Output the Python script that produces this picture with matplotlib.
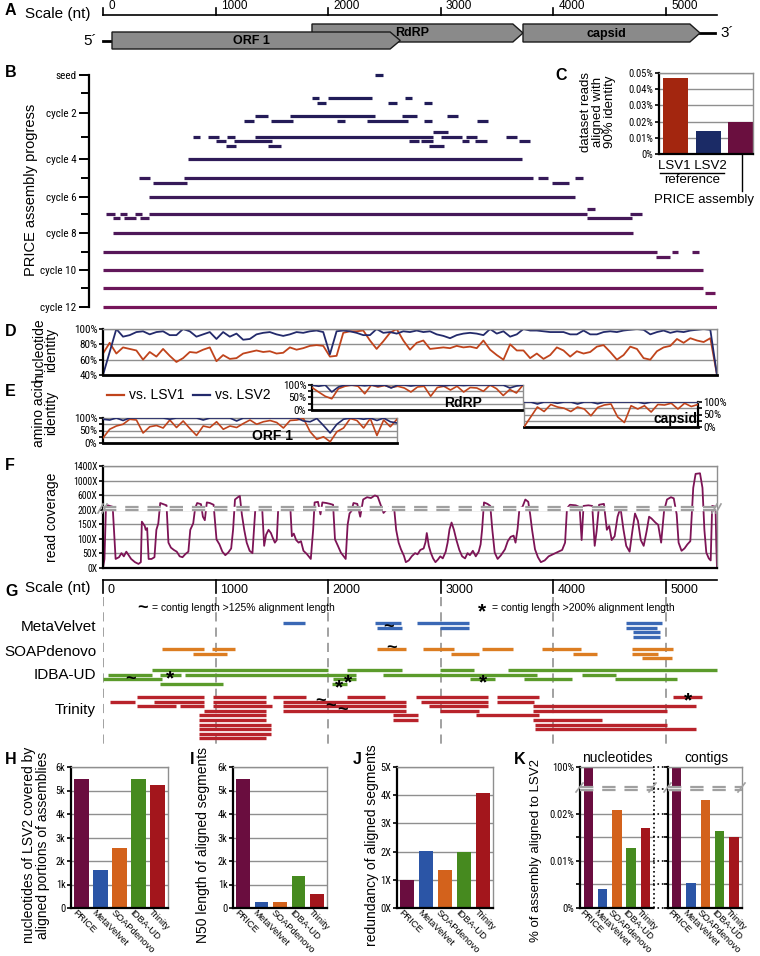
import matplotlib
matplotlib.use('Agg')
import matplotlib.pyplot as plt
import matplotlib.transforms as mtransforms
from matplotlib.colors import to_rgb
from matplotlib.patches import Polygon
from matplotlib import font_manager
from matplotlib.font_manager import FontProperties
import numpy as np

plt.rcParams['font.family'] = ['Liberation Sans', 'DejaVu Sans']


def find_narrow():
    # a condensed sans face for the small tick labels, if one is installed
    prefs = ['Liberation Sans Narrow', 'Roboto Condensed', 'Open Sans Condensed',
             'Noto Sans', 'Open Sans', 'Roboto', 'DejaVu Sans Condensed']
    cands = []
    for f in font_manager.fontManager.ttflist:
        narrow = ('Narrow' in f.name or 'Condensed' in f.name or 'Condensed' in f.fname
                  or str(f.stretch) in ('condensed', 'semi-condensed'))
        if narrow and f.style == 'normal' and f.weight in (400, 'normal', 'regular'):
            cands.append(f)
    for p in prefs:
        for f in cands:
            if f.name == p:
                return FontProperties(fname=f.fname)
    return None


NARROW_FP = find_narrow()

W, H = 760, 956
GENOME_LEN = 5452
X0_PX = 103        # pixel column of nt 0
NT_PER_PX = 8.881  # 1000 nt ~ 112.6 px on the scale bar

# ---------------- data ----------------
scale_ticks = [0, 1000, 2000, 3000, 4000, 5000]

gene_names = ['ORF 1', 'RdRP', 'capsid']
gene_start = [80, 1856, 3730]
gene_end = [2640, 3730, 5302]

# PRICE contigs per cycle (seed .. cycle 12), rows of (start, end) in nt
price_contigs = [
    [[(2413, 2485)]],
    [[(1856, 1918), (1998, 2389), (2682, 2744)],
     [(1900, 1980), (2531, 2611), (2850, 2921)]],
    [[(1350, 1465), (1661, 2415), (2655, 2788), (3055, 3152)],
     [(1252, 1341), (1492, 1687), (2078, 2149), (2344, 2708), (2850, 2921), (3321, 3419)]],
    [[(2930, 3064)],
     [(799, 861), (932, 1030), (1101, 1172), (1350, 2930), (3001, 3188), (3223, 3321), (3579, 3676)],
     [(1003, 1092), (1163, 1501), (2717, 2806), (2824, 2930), (3188, 3250), (3303, 3410), (3694, 3792)],
     [(1092, 1181), (1465, 1581), (2895, 3028)]],
    [[(755, 3721)]],
    [[(320, 417), (719, 3818), (3863, 3952), (4191, 4262)],
     [(444, 746), (3987, 4138)]],
    [[(408, 4191)]],
    [[(4298, 4369)],
     [(27, 107), (151, 213), (284, 346), (408, 4298), (4680, 4786)],
     [(89, 151), (186, 293), (329, 408), (4298, 4698)]],
    [[(89, 4706)]],
    [[(0, 4920), (5053, 5106), (5230, 5292)],
     [(4911, 5035)]],
    [[(0, 5328)]],
    [[(0, 5328)],
     [(5346, 5435)]],
    [[(0, 5452)]],
]
cycle_labels = ['seed', '', 'cycle 2', '', 'cycle 4', '', 'cycle 6', '',
                'cycle 8', '', 'cycle 10', '', 'cycle 12']

# C: dataset reads aligned with 90% identity (%)
c_names = ['LSV1', 'LSV2', 'PRICE']
c_values = [0.047, 0.014, 0.020]

# D: nucleotide identity (%) along genome
d_lsv1 = [68, 82, 68, 76, 74, 72, 60, 70, 64, 74,
          65, 57, 62, 70, 69, 73, 76, 58, 66, 61,
          62, 68, 70, 72, 70, 71, 68, 69, 76, 73,
          75, 78, 79, 78, 64, 65, 95, 97, 97, 98,
          85, 74,
          84, 95, 100, 85, 73, 82, 85, 74, 75, 76,
          75, 78, 76, 77, 75, 85, 73, 66, 60, 80,
          72, 72, 62, 68, 61, 66, 76, 72, 64, 71,
          68, 70, 77, 79, 70, 60, 66, 77, 74, 62,
          60, 71, 76, 78, 87, 82, 88, 85, 83, 88,
          40]
d_lsv2 = [40, 70, 100, 90, 92, 96, 97, 93, 96, 97,
          92, 92, 100, 97, 90, 93, 96, 87, 96, 90,
          94, 86, 87, 93, 95, 96, 93, 91, 93, 96,
          95, 97, 98, 96, 67, 97, 98, 97, 95, 92,
          92, 100,
          95, 96, 94, 97, 96, 98, 96, 97, 93, 91,
          88, 92, 94, 95, 94, 92, 100, 94, 97, 90,
          93, 100, 98, 98, 97, 96, 96, 96, 93, 93,
          98, 93, 93, 96, 97, 96, 98, 99, 100, 99,
          93, 96, 98, 95, 97, 96, 98, 99, 100, 99,
          40]

# E: amino acid identity (%) per protein
orf1_lsv1 = [20, 55, 68, 75, 95, 92, 40, 65, 70, 60,
             92, 62, 88, 58, 30, 68, 62, 85, 55, 68,
             62, 78, 92, 75, 85, 90, 82, 60, 90, 92,
             98, 45, 15, 25, 5, 45, 60, 98, 90, 60,
             98, 30, 92, 65, 95]
orf1_lsv2 = [95, 92, 100, 90, 100, 100, 100, 100, 100, 100,
             95, 100, 100, 100, 100, 92, 100, 100, 100, 100,
             88, 100, 100, 100, 100, 100, 100, 100, 100, 100,
             88, 85, 98, 70, 40, 75, 95, 100, 100, 95,
             100, 90, 100, 85, 80]
rdrp_lsv1 = [90, 72, 55, 45, 85, 95, 100, 95, 65, 100,
             92, 98, 90, 95, 88, 72, 92, 95, 55, 90,
             95, 80, 95, 72, 90, 88, 75, 100, 85, 58,
             82, 68, 100]
rdrp_lsv2 = [100, 95, 100, 72, 92, 100, 100, 100, 97, 100,
             96, 100, 88, 100, 100, 96, 100, 100, 100, 100,
             96, 100, 100, 98, 100, 100, 100, 100, 100, 100,
             88, 96, 100]
capsid_lsv1 = [0, 40, 80, 62, 90, 80, 75, 62, 80, 72,
               45, 78, 88, 92, 40, 18, 85, 72, 85, 60,
               90, 88, 95, 72, 95, 82, 90]
capsid_lsv2 = [100, 100, 92, 100, 100, 95, 100, 100, 92, 100,
               100, 93, 100, 100, 100, 100, 100, 100, 94, 100,
               100, 100, 100, 100, 100, 100, 100]

# F: read coverage (nt, fold)
coverage = [
    (0, 0), (13, 31), (26, 240), (43, 320), (86, 280), (112, 31), (142, 37), (164, 51),
    (185, 40), (207, 56), (228, 44), (250, 31), (284, 20), (315, 14), (336, 20), (345, 159),
    (371, 144), (379, 131), (392, 137), (405, 31), (431, 31), (457, 37), (474, 131), (491, 153),
    (508, 384), (551, 336), (564, 320), (581, 87), (603, 70), (629, 62), (655, 56), (681, 40),
    (706, 37), (732, 48), (758, 56), (775, 131), (801, 153), (818, 240), (836, 384), (870, 352),
    (887, 176), (904, 164), (922, 400), (948, 384), (982, 336), (1008, 98), (1034, 81), (1060, 56),
    (1086, 44), (1112, 53), (1138, 67), (1155, 131), (1172, 480), (1198, 544), (1215, 576),
    (1233, 184), (1254, 131), (1276, 87), (1302, 59), (1327, 51), (1353, 240), (1388, 224),
    (1414, 200), (1431, 76), (1448, 114), (1470, 131), (1491, 120), (1508, 103), (1526, 87),
    (1543, 96), (1556, 240), (1608, 256), (1664, 224), (1677, 109), (1694, 118), (1715, 96),
    (1737, 87), (1758, 92), (1780, 59), (1810, 48), (1845, 31), (1866, 131), (1879, 400),
    (1909, 416), (1931, 184), (1948, 400), (1983, 384), (2017, 360), (2043, 336), (2060, 98),
    (2086, 76), (2112, 53), (2138, 40), (2155, 31), (2172, 148), (2189, 187), (2207, 196),
    (2224, 384), (2258, 360), (2284, 176), (2310, 480), (2345, 544), (2379, 520), (2414, 592),
    (2439, 560), (2465, 336), (2491, 189), (2513, 198), (2534, 256), (2560, 198), (2586, 224),
    (2603, 131), (2625, 87), (2646, 64), (2672, 42), (2689, 20), (2715, 26), (2741, 40),
    (2771, 51), (2793, 47), (2818, 62), (2847, 67), (2864, 89), (2875, 120), (2893, 76),
    (2910, 53), (2931, 33), (2952, 20), (2974, 29), (2995, 40), (3017, 33), (3043, 56),
    (3060, 87), (3077, 133), (3095, 156), (3116, 131), (3138, 96), (3164, 62), (3189, 40),
    (3215, 33), (3237, 51), (3258, 44), (3284, 59), (3310, 40), (3336, 56), (3353, 81),
    (3366, 131), (3383, 400), (3414, 360), (3439, 304), (3457, 131), (3478, 53), (3504, 31),
    (3534, 44), (3569, 64), (3594, 92), (3620, 107), (3646, 111), (3663, 87), (3681, 133),
    (3698, 240), (3724, 272), (3750, 480), (3776, 416), (3793, 184), (3810, 131), (3836, 64),
    (3862, 37), (3888, 20), (3922, 26), (3957, 40), (4000, 48), (4043, 56), (4077, 62),
    (4103, 87), (4120, 240), (4146, 336), (4198, 320), (4232, 272), (4250, 96), (4267, 304),
    (4310, 320), (4344, 304), (4366, 76), (4383, 126), (4405, 336), (4448, 360), (4474, 131),
    (4495, 144), (4517, 96), (4543, 109), (4569, 176), (4595, 256), (4621, 133), (4646, 76),
    (4676, 56), (4702, 131), (4724, 187), (4750, 162), (4775, 96), (4801, 76), (4827, 126),
    (4849, 176), (4870, 170), (4905, 156), (4930, 148), (4956, 87), (4982, 196), (5008, 480),
    (5043, 544), (5068, 512), (5094, 184), (5111, 87), (5137, 59), (5163, 67), (5189, 81),
    (5215, 92), (5241, 800), (5262, 1184), (5301, 1200), (5323, 800), (5340, 131), (5357, 53),
    (5379, 33), (5396, 26), (5409, 304), (5439, 280), (5446, 76), (5452, 0),
]

# G: aligned contigs of other assemblers, rows of (start, end) nt
asm_rows = {
    'MetaVelvet': [
        [(1598, 1794), (2415, 2646), (2788, 3250), (4644, 4964)],
        [(2433, 2655), (2993, 3250), (4644, 4920)],
        [(4706, 4946)],
        [(4706, 4946)]],
    'SOAPdenovo': [
        [(524, 897), (968, 1172), (2433, 2691), (2842, 3117), (3366, 3641), (3898, 4245), (4698, 5062)],
        [(799, 1101), (3090, 3339), (4174, 4387), (4698, 4928)],
        [(4786, 5053)]],
    'IDBA-UD': [
        [(435, 1998), (2167, 2655), (2993, 3294), (3596, 5452)],
        [(44, 435), (506, 693), (728, 2247), (2486, 3854), (4254, 4555)],
        [(0, 524), (2042, 2247), (3259, 3481), (3738, 4165), (4547, 5097)],
        [(506, 1066), (2033, 2167)]],
    'Trinity': [
        [(302, 897), (977, 1447), (1510, 1803), (2167, 2504), (2779, 3419), (3499, 3872), (5062, 5319)],
        [(62, 284), (453, 897), (977, 1447), (1598, 2691), (2824, 3419), (3499, 3827)],
        [(302, 648), (684, 897), (977, 1501), (1598, 2691), (2895, 3419), (3818, 5266)],
        [(897, 1447), (1598, 2691), (2993, 3339), (3818, 5008)],
        [(852, 1447), (2575, 2797), (3312, 3872)],
        [(852, 1447), (2575, 2797), (3818, 4431)],
        [(852, 1492), (3836, 5008)],
        [(852, 1492), (3836, 5266)],
        [(852, 1492)],
        [(852, 1447)]],
}
# (assembler, row, nt) of contigs flagged >125% (~) and >200% (*)
tilde_marks = [('MetaVelvet', 1, 2531), ('SOAPdenovo', 0, 2566), ('IDBA-UD', 2, 240),
               ('Trinity', 1, 1927), ('Trinity', 2, 2016), ('Trinity', 3, 2131)]
star_marks = [('IDBA-UD', 1, 595), ('IDBA-UD', 2, 2176), ('IDBA-UD', 3, 2096),
              ('IDBA-UD', 2, 3374), ('Trinity', 0, 5195)]

# H-K: assembler comparison
asm_names = ['PRICE', 'MetaVelvet', 'SOAPdenovo', 'IDBA-UD', 'Trinity']
covered_nt = [5480, 1620, 2540, 5480, 5250]
n50_len = [5480, 260, 270, 1370, 600]
redundancy = [1.0, 2.02, 1.35, 2.0, 4.08]
pct_nucleotides = [100, 0.0040, 0.0208, 0.0127, 0.0170]
pct_contigs = [100, 0.0053, 0.0229, 0.0164, 0.0151]

# ---------------- styles ----------------
NAVY = '#232a6b'
RUST = '#c0441c'
GRID = '#8f8f8f'
COV_COLOR = '#7d1456'
c_colors = ['#a3260f', '#1b2b66', '#6a0f3f']
asm_colors = ['#6a0d3f', '#2b55a6', '#d3621c', '#468a1f', '#a3161c']
g_colors = {'MetaVelvet': '#3a68b5', 'SOAPdenovo': '#dc7d22',
            'IDBA-UD': '#5b9b2b', 'Trinity': '#b8232b'}

fig = plt.figure(figsize=(7.6, 9.56), dpi=100)
ov = fig.add_axes([0, 0, 1, 1], zorder=10)
ov.set_xlim(0, W)
ov.set_ylim(H, 0)
ov.axis('off')


def px_ax(x0, y0, x1, y1):
    return fig.add_axes([x0 / W, 1 - y1 / H, (x1 - x0) / W, (y1 - y0) / H])


def nt_span(x0, x1):
    return (x0 - X0_PX) * NT_PER_PX, (x1 - X0_PX) * NT_PER_PX


def narrow_ticks(ax):
    # reference tick labels are set in a condensed face
    for lab in ax.get_yticklabels():
        size = lab.get_fontsize()
        if NARROW_FP is not None:
            fp = NARROW_FP.copy()
            fp.set_size(size)
            lab.set_fontproperties(fp)
        else:
            lab.set_fontsize(size * 0.88)


def frame(ax, labelsize=7.5):
    for s in ['top', 'right']:
        ax.spines[s].set_color(GRID)
        ax.spines[s].set_linewidth(1)
    for s in ['left', 'bottom']:
        ax.spines[s].set_color('black')
        ax.spines[s].set_linewidth(1.6)
    ax.yaxis.grid(True, which='both', color=GRID, lw=1)
    ax.set_axisbelow(True)
    ax.tick_params(axis='x', length=0, labelbottom=False)
    ax.tick_params(axis='y', which='major', labelsize=labelsize, length=3, width=1.2, pad=1)
    ax.tick_params(axis='y', which='minor', length=3, width=1.2)


for lab, x, y in [('A', 5, 10), ('B', 5, 72), ('C', 555, 75), ('D', 5, 332), ('E', 5, 392),
                  ('F', 5, 465), ('G', 5, 591), ('H', 5, 759), ('I', 190, 759),
                  ('J', 353, 759), ('K', 514, 759)]:
    ov.text(x, y, lab, fontsize=11.5, fontweight='bold', va='center')

# ---------------- A: genome map ----------------
axA = px_ax(90, 0, 745, 58)
axA.set_xlim(*nt_span(90, 745))
axA.set_ylim(58, 0)
axA.axis('off')
axA.plot([0, GENOME_LEN], [15, 15], color='black', lw=1.2)
for t in scale_ticks:
    axA.plot([t, t], [15, 8], color='black', lw=1.2)
    axA.text(t + 45, 6, str(t), fontsize=8.5, va='center')
ov.text(25, 14, 'Scale (nt)', fontsize=11, va='center')

gene_y = [(32, 49), (24, 42), (24, 42)]
tip = 90
for name, s, e, (y0, y1), z in zip(gene_names, gene_start, gene_end, gene_y, [4, 3, 3]):
    pts = [(s, y0), (e - tip, y0), (e, (y0 + y1) / 2), (e - tip, y1), (s, y1)]
    axA.add_patch(Polygon(pts, closed=True, fc='#8a8a8a', ec='#1a1a1a', lw=1, zorder=z))
    axA.text((s + e - tip) / 2, (y0 + y1) / 2 + 0.5, name, fontsize=9, fontweight='bold',
             ha='center', va='center', zorder=z + 1)
axA.plot([0, gene_start[0]], [41, 41], color='black', lw=2)
axA.plot([gene_end[2], 5435], [33, 33], color='black', lw=2)
axA.text(-50, 41, '5\u00b4', fontsize=11, ha='right', va='center')
axA.text(5480, 33, '3\u00b4', fontsize=11, ha='left', va='center')

# ---------------- B: PRICE progress ----------------
axB = px_ax(89, 68, 717, 312)
axB.set_xlim(*nt_span(89, 717))
axB.set_ylim(312, 68)
row0_px = [75, 98, 116, 132, 159, 178, 197, 209, 233, 252, 270, 288, 307]
tick_px = [75, 93, 113, 137, 159, 178, 197, 214, 233, 252, 270, 288, 307]
row_step = 4.7
c_a, c_b = np.array(to_rgb('#1e1c58')), np.array(to_rgb('#76155a'))
for cyc, rows in enumerate(price_contigs):
    t = (cyc / 12) ** 1.5
    col = c_a * (1 - t) + c_b * t
    for r, segs in enumerate(rows):
        y = row0_px[cyc] + r * row_step
        for s, e in segs:
            axB.plot([s, e], [y, y], color=col, lw=2.3, solid_capstyle='butt')
for s in ['top', 'right', 'bottom']:
    axB.spines[s].set_visible(False)
axB.spines['left'].set_linewidth(1.6)
axB.spines['left'].set_bounds(tick_px[0], tick_px[-1])
axB.set_xticks([])
axB.set_yticks(tick_px[::2])
axB.set_yticklabels(cycle_labels[::2], fontsize=8)
axB.set_yticks(tick_px[1::2], minor=True)
axB.tick_params(axis='y', which='major', length=7, width=1.4, pad=2)
axB.tick_params(axis='y', which='minor', length=6, width=1.4)
narrow_ticks(axB)
ov.text(31, 190, 'PRICE assembly progress', fontsize=10.5, rotation=90, ha='center', va='center')

# ---------------- C: inset bars ----------------
axC = px_ax(659, 73, 753, 154)
axC.bar(range(3), c_values, width=0.77, color=c_colors, zorder=2)
axC.set_xlim(-0.51, 2.38)
axC.set_ylim(0, 0.05)
frame(axC)
axC.set_yticks([0, 0.01, 0.02, 0.03, 0.04, 0.05])
axC.set_yticklabels(['0%', '0.01%', '0.02%', '0.03%', '0.04%', '0.05%'])
narrow_ticks(axC)
ov.text(598, 112, 'dataset reads\naligned with\n90% identity', fontsize=9.5, rotation=90,
        ha='center', va='center', linespacing=0.95)
ov.text(692, 166, 'LSV1 LSV2', fontsize=9.5, ha='center', va='center')
ov.plot([660, 724], [173, 173], color='black', lw=1)
ov.text(692, 180, 'reference', fontsize=9.5, ha='center', va='center')
ov.plot([742, 742], [154, 191], color='black', lw=1)
ov.text(704, 200, 'PRICE assembly', fontsize=9.5, ha='center', va='center')

# ---------------- D: nucleotide identity ----------------
axD = px_ax(103, 329, 717, 375)
axD.plot(np.linspace(0, GENOME_LEN, len(d_lsv1)), d_lsv1, color=RUST, lw=1.3)
axD.plot(np.linspace(0, GENOME_LEN, len(d_lsv2)), d_lsv2, color=NAVY, lw=1.3)
axD.set_xlim(0, GENOME_LEN)
axD.set_ylim(40, 100)
frame(axD, labelsize=8)
axD.spines['bottom'].set_linewidth(2)
axD.set_yticks([40, 60, 80, 100])
axD.set_yticklabels(['40%', '60%', '80%', '100%'])
narrow_ticks(axD)
ov.text(45, 350, 'nucleotide\nidentity', fontsize=10, rotation=90, ha='center', va='center',
        linespacing=0.9)

# ---------------- E: amino acid identity ----------------
ov.plot([107, 124], [395, 395], color=RUST, lw=1.6)
ov.text(129, 395, 'vs. LSV1', fontsize=10, va='center')
ov.plot([193, 210], [395, 395], color=NAVY, lw=1.6)
ov.text(215, 395, 'vs. LSV2', fontsize=10, va='center')
ov.text(45, 413, 'amino acid\nidentity', fontsize=10, rotation=90, ha='center', va='center',
        linespacing=0.9)

e_boxes = [(103, 418, 397, 443), (312, 385, 523, 410), (524, 402, 698, 427)]
e_lsv1 = [orf1_lsv1, rdrp_lsv1, capsid_lsv1]
e_lsv2 = [orf1_lsv2, rdrp_lsv2, capsid_lsv2]
e_side = ['left', 'left', 'right']
e_name_xy = [(273, 436), (463, 403), (676, 419)]
for (x0, y0, x1, y1), v1, v2, side, (tx, ty), gname in zip(
        e_boxes, e_lsv1, e_lsv2, e_side, e_name_xy, gene_names):
    ax = px_ax(x0, y0, x1, y1)
    lo, hi = nt_span(x0, x1)
    ax.plot(np.linspace(lo, hi, len(v1)), v1, color=RUST, lw=1.2, zorder=3)
    ax.plot(np.linspace(lo, hi, len(v2)), v2, color=NAVY, lw=1.2, zorder=3)
    ax.set_xlim(lo, hi)
    ax.set_ylim(0, 100)
    for s in ['top', 'right', 'left']:
        ax.spines[s].set_color(GRID)
        ax.spines[s].set_linewidth(1)
    ax.spines['bottom'].set_linewidth(2)
    ax.spines[side].set_color('black')
    ax.spines[side].set_linewidth(1.6)
    ax.set_yticks([0, 50, 100])
    ax.set_yticklabels(['0%', '50%', '100%'])
    ax.set_yticks([25, 75], minor=True)
    ax.yaxis.grid(True, which='both', color=GRID, lw=1)
    ax.set_axisbelow(True)
    ax.tick_params(axis='x', length=0, labelbottom=False)
    ax.tick_params(axis='y', which='both', labelsize=8, length=3, width=1.2, pad=1)
    if side == 'right':
        ax.yaxis.tick_right()
    narrow_ticks(ax)
    ov.text(tx, ty, gname, fontsize=10, fontweight='bold', ha='center', va='center')

# ---------------- F: read coverage (broken axis) ----------------
def cov_fwd(v):
    v = np.asarray(v, dtype=float)
    return np.where(v <= 200, v / 50, 4 + (v - 200) / 400)


cov_pos, cov_val = np.array(coverage).T
axF = px_ax(103, 466, 717, 568)
axF.plot(cov_pos, cov_fwd(cov_val), color=COV_COLOR, lw=1.3, zorder=2)
axF.set_xlim(0, GENOME_LEN)
axF.set_ylim(0, 7)
frame(axF, labelsize=7)
f_ticks = [0, 50, 100, 150, 200, 600, 1000, 1400]
axF.set_yticks(cov_fwd(f_ticks))
axF.set_yticklabels([f'{t}X' for t in f_ticks])
narrow_ticks(axF)
axF.axhspan(4.0, 4.2, color='white', zorder=3)
for yb in (4.0, 4.2):
    axF.axhline(yb, color='#a0a0a0', lw=1.6, dashes=(6, 4), zorder=4)
for xe in (103, 717):
    for dx in (-3, 1):
        ov.plot([xe + dx - 2, xe + dx + 3], [513, 504], color='#a0a0a0', lw=1.2)
ov.text(52, 517, 'read coverage', fontsize=10, rotation=90, ha='center', va='center')

# ---------------- G: other assemblers ----------------
axG = px_ax(103, 575, 717, 750)
axG.set_xlim(0, GENOME_LEN)
axG.set_ylim(750, 575)
axG.axis('off')
axG.plot([0, GENOME_LEN], [580, 580], color='black', lw=1.2, clip_on=False)
for t in scale_ticks:
    axG.plot([t, t], [580, 593], color='black', lw=1.2, clip_on=False)
    axG.text(t + 40, 590, str(t), fontsize=9, va='center', clip_on=False)
    axG.plot([t, t], [597, 745], color='#888888', lw=1.1, dashes=(6, 4))
ov.text(25, 588, 'Scale (nt)', fontsize=11, va='center')

g_base = {'MetaVelvet': 623, 'SOAPdenovo': 649, 'IDBA-UD': 670, 'Trinity': 697}
g_label_y = {'MetaVelvet': 627, 'SOAPdenovo': 652, 'IDBA-UD': 675, 'Trinity': 710}
g_step = 4.6
for name, rows in asm_rows.items():
    for r, segs in enumerate(rows):
        y = g_base[name] + r * g_step
        for s, e in segs:
            axG.plot([s, e], [y, y], color=g_colors[name], lw=2.4, solid_capstyle='butt',
                     clip_on=False)
    ov.text(96, g_label_y[name], name, fontsize=11, ha='right', va='center')
for name, r, x in tilde_marks:
    axG.text(x, g_base[name] + r * g_step, '~', fontsize=13, fontweight='bold',
             ha='center', va='center', clip_on=False)
for name, r, x in star_marks:
    axG.text(x, g_base[name] + r * g_step + 4, '*', fontsize=15, fontweight='bold',
             ha='center', va='center', clip_on=False)
ov.text(142, 608, '~', fontsize=13, fontweight='bold', ha='center', va='center')
ov.text(152, 608, '= contig length >125% alignment length', fontsize=7.5, va='center')
ov.text(482, 612, '*', fontsize=15, fontweight='bold', ha='center', va='center')
ov.text(492, 608, '= contig length >200% alignment length', fontsize=7.5, va='center')

# ---------------- H, I, J: bar comparisons ----------------
def set_names(ax):
    ax.tick_params(axis='x', labelbottom=True, pad=0)
    ax.set_xticks(range(5))
    ax.set_xticklabels(asm_names, rotation=-45, ha='left', va='top',
                       rotation_mode='anchor', fontsize=6.8)
    shift = mtransforms.ScaledTranslation(-4 / 100, 0, fig.dpi_scale_trans)
    for lab in ax.get_xticklabels():
        lab.set_transform(lab.get_transform() + shift)


def bar_panel(x0, x1, values, ticks, ticklabels, ylab, ylab_x):
    ax = px_ax(x0, 767, x1, 908)
    ax.bar(range(5), values, width=0.75, color=asm_colors, zorder=2)
    ax.set_xlim(-0.55, 4.55)
    ax.set_ylim(ticks[0], ticks[-1])
    frame(ax)
    ax.set_yticks(ticks)
    ax.set_yticklabels(ticklabels)
    narrow_ticks(ax)
    set_names(ax)
    ov.text(ylab_x, 845, ylab, fontsize=10, rotation=90, ha='center', va='center',
            linespacing=0.95)
    return ax


k_ticks = [0, 1000, 2000, 3000, 4000, 5000, 6000]
k_labels = ['0', '1k', '2k', '3k', '4k', '5k', '6k']
bar_panel(71, 168, covered_nt, k_ticks, k_labels,
          'nucleotides of LSV2 covered by\naligned portions of assemblies', 36)
bar_panel(233, 327, n50_len, k_ticks, k_labels, 'N50 length of aligned segments', 203)
bar_panel(397, 493, redundancy, [0, 1, 2, 3, 4, 5], ['0X', '1X', '2X', '3X', '4X', '5X'],
          'redundancy of aligned segments', 372)

# ---------------- K: % of assembly aligned (broken axis) ----------------
K_BREAK = 0.0256


def k_fwd(v):
    v = np.asarray(v, dtype=float)
    return np.where(v <= K_BREAK, v, K_BREAK + (v - K_BREAK) * 0.0043 / (100 - K_BREAK))


k_top = float(k_fwd(100))
k_axes = []
for (x0, x1), vals, head, hx in [((580, 653), pct_nucleotides, 'nucleotides', 617),
                                  ((668, 742), pct_contigs, 'contigs', 706)]:
    ax = px_ax(x0, 767, x1, 908)
    ax.bar(range(5), k_fwd(vals), width=0.66, color=asm_colors, zorder=2)
    ax.set_xlim(-0.6, 4.55)
    ax.set_ylim(0, k_top)
    frame(ax)
    ax.set_yticks([0, 0.01, 0.02, k_top])
    ax.set_yticks([0.005, 0.015], minor=True)
    if x0 == 580:
        ax.set_yticklabels(['0%', '0.01%', '0.02%', '100%'])
        ax.spines['right'].set_visible(False)
    else:
        ax.set_yticklabels([])
    narrow_ticks(ax)
    set_names(ax)
    ax.axhspan(0.0250, K_BREAK, color='white', zorder=3)
    for yb in (0.0250, K_BREAK):
        ax.axhline(yb, color='#a0a0a0', lw=1.6, dashes=(6, 4), zorder=4)
    ov.text(hx, 758, head, fontsize=10, ha='center', va='center')
    k_axes.append(ax)

# dotted divider between nucleotides and contigs
axc = k_axes[1]
bt = mtransforms.blended_transform_factory(axc.transAxes, axc.transData)
for yv in [0, 0.005, 0.01, 0.015, 0.02, 0.0253, k_top]:
    axc.plot([-0.2, -0.02], [yv, yv], color='black', lw=1.2, ls=':', transform=bt,
             clip_on=False)
axc.plot([-0.19, -0.19], [0, k_top], color='black', lw=1.2, ls=':', transform=bt,
         clip_on=False)
for xe in (580, 653, 668, 742):
    ov.plot([xe - 4, xe + 3], [792, 783], color='#a0a0a0', lw=1.2)
ov.text(536, 850, '% of assembly aligned to LSV2', fontsize=9.5, rotation=90,
        ha='center', va='center')

fig.savefig('out.png', dpi=100)
